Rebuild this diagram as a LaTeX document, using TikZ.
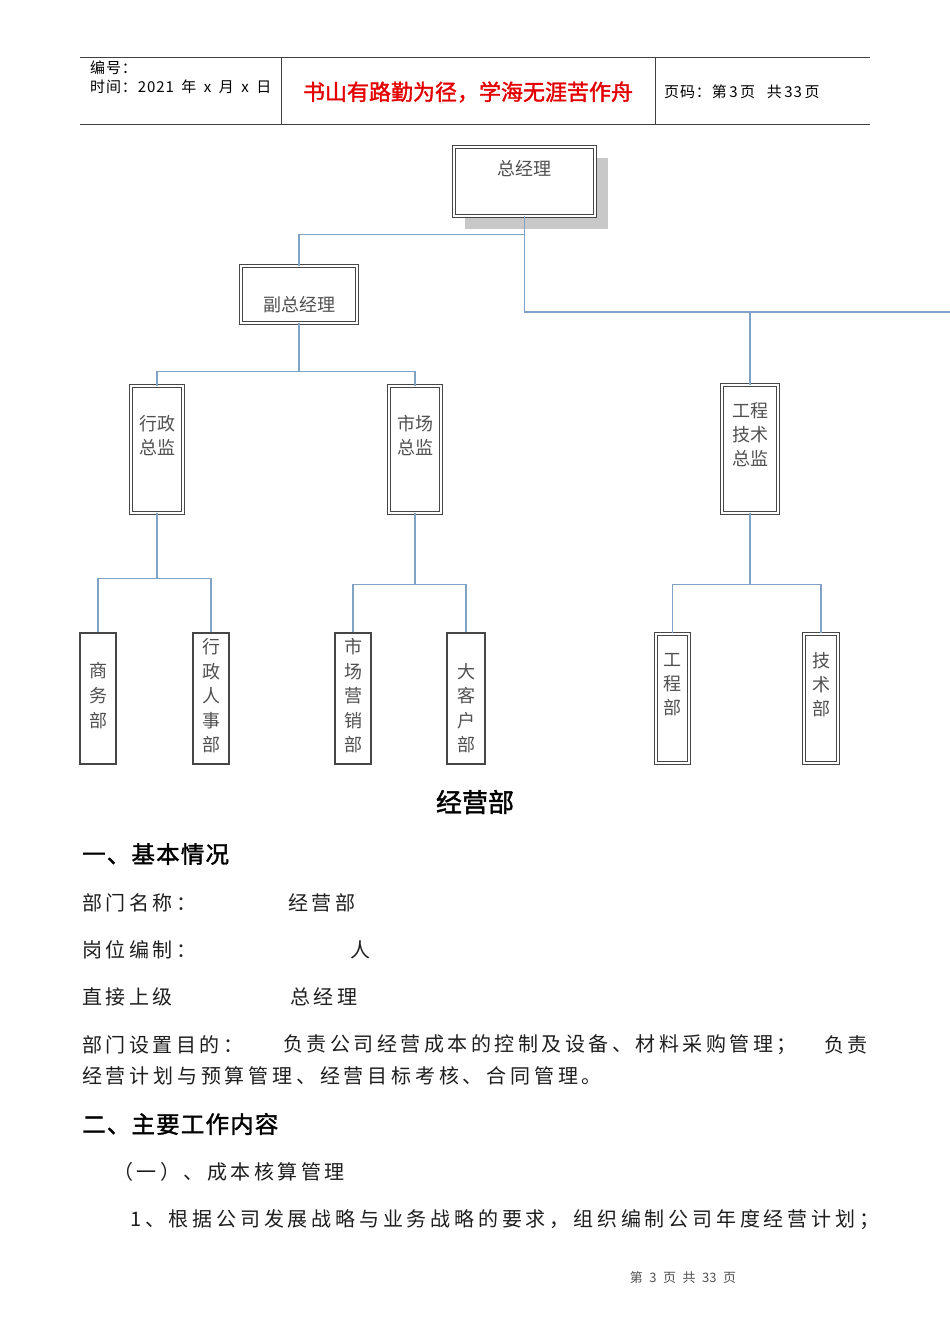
\documentclass[tikz,border=0pt]{standalone}
\usepackage{fontspec}
\newfontfamily\cjk{Noto Sans CJK SC}
\newfontfamily\cjkb[FakeBold=1.6]{Noto Sans CJK SC}
\newfontfamily\cjksp[LetterSpace=17.5]{Noto Sans CJK SC}
\newfontfamily\cjkhd[LetterSpace=6]{Noto Sans CJK SC}
\definecolor{linkblue}{RGB}{128,162,196}
\definecolor{boxgray}{RGB}{70,70,70}
\definecolor{txtgray}{RGB}{80,80,80}
\definecolor{shadowgray}{RGB}{200,200,200}
\definecolor{hdrred}{RGB}{228,0,0}
\definecolor{bodyblack}{RGB}{30,30,30}
\tikzset{
  dbox/.style={draw=boxgray, fill=white, line width=0.9pt, double=white, double distance=1.6pt, inner sep=0pt},
  tbox/.style={draw=boxgray, fill=white, line width=1.3pt, double=white, double distance=1.3pt, inner sep=0pt},
  sbox/.style={draw=boxgray, fill=white, line width=1.3pt, inner sep=0pt},
  link/.style={draw=linkblue, line width=1.4pt},
  chtxt/.style={font=\cjk\fontsize{18}{24.5}\selectfont, text=txtgray, inner sep=0pt, align=center},
  hdr/.style={font=\cjkhd\fontsize{15}{17}\selectfont, text=black, inner sep=0pt, anchor=west},
  body/.style={font=\cjksp\fontsize{20}{24}\selectfont, text=bodyblack, inner sep=0pt, anchor=west},
  head/.style={font=\cjkb\fontsize{23.5}{26}\selectfont\addfontfeatures{LetterSpace=5}, text=black, inner sep=0pt, anchor=west},
  rule/.style={draw=black!75, line width=0.8pt}
}
\begin{document}
\begin{tikzpicture}[x=1pt,y=-1pt]
\useasboundingbox (0,0) rectangle (950,1344);
% header table
\coordinate (hl1) at (80,57); \coordinate (hr1) at (870,57);
\coordinate (hl2) at (80,124); \coordinate (hr2) at (870,124);
\coordinate (v1a) at (281,57); \coordinate (v1b) at (281,124);
\coordinate (v2a) at (655,57); \coordinate (v2b) at (655,124);
\draw[rule] (hl1) -- (hr1);
\draw[rule] (hl2) -- (hr2);
\draw[rule] (v1a) -- (v1b);
\draw[rule] (v2a) -- (v2b);
\node[hdr] (bianhao) at (90,68) {编号：};
\node[hdr] (shijian) at (90,87) {时间：2021\enspace 年\enspace x\enspace 月\enspace x\enspace 日};
\node[font=\cjkb\fontsize{22}{24}\selectfont, text=hdrred, inner sep=0pt] (motto) at (468,92) {书山有路勤为径，学海无涯苦作舟};
\node[hdr] (yema) at (664,92) {页码：第\,3\,页\enspace\ 共\,33\,页};

% shadow of top box
\fill[shadowgray] (465,158) rectangle (608,229);

% boxes
\node[dbox, minimum width=141pt, minimum height=69pt] (zjl) at (524.5,181.5) {};
\node[dbox, minimum width=116pt, minimum height=57pt] (fzjl) at (299,294.5) {};
\node[dbox, minimum width=52pt, minimum height=127pt] (xzzj) at (157,449.5) {};
\node[dbox, minimum width=52pt, minimum height=127pt] (sczj) at (415,449.5) {};
\node[dbox, minimum width=56pt, minimum height=128pt] (gcjs) at (750,449) {};
\node[sbox, minimum width=36pt, minimum height=131pt] (swb) at (98,698.5) {};
\node[sbox, minimum width=36pt, minimum height=131pt] (xzrsb) at (211,698.5) {};
\node[sbox, minimum width=36pt, minimum height=131pt] (scyxb) at (353,698.5) {};
\node[sbox, minimum width=38pt, minimum height=131pt] (dkhb) at (466,698.5) {};
\node[tbox, minimum width=33pt, minimum height=129pt] (gcb) at (672.5,698.5) {};
\node[tbox, minimum width=34pt, minimum height=129pt] (jsb) at (821,698.5) {};

% box texts
\node[chtxt] (tzjl) at (524.5,169) {总经理};
\node[chtxt] (tfzjl) at (299,305) {副总经理};
\node[chtxt] (txzzj) at (157,435.5) {行政\\总监};
\node[chtxt] (tsczj) at (415,435.5) {市场\\总监};
\node[chtxt, font=\cjk\fontsize{18}{24}\selectfont] (tgcjs) at (750,435) {工程\\技术\\总监};
\node[chtxt, font=\cjk\fontsize{18}{25}\selectfont] (tswb) at (98,696) {商\\务\\部};
\node[chtxt] (txzrsb) at (211,696) {行\\政\\人\\事\\部};
\node[chtxt] (tscyxb) at (353,696) {市\\场\\营\\销\\部};
\node[chtxt] (tdkhb) at (466,708) {大\\客\\户\\部};
\node[chtxt, font=\cjk\fontsize{18}{24}\selectfont] (tgcb) at (672.5,685) {工\\程\\部};
\node[chtxt, font=\cjk\fontsize{18}{24}\selectfont] (tjsb) at (821,685) {技\\术\\部};

% connectors
\coordinate (rend) at (950,312);
\draw[link] (zjl.south) |- (rend);
\draw[link] (zjl.south) -- ++(0,18) -| (fzjl.north);
\draw[link] (gcjs.north) -- (gcjs.north |- rend);
\draw[link] (fzjl.south) -- ++(0,48) -| (xzzj.north);
\draw[link] (fzjl.south) -- ++(0,48) -| (sczj.north);
\draw[link] (xzzj.south) -- ++(0,65) -| (swb.north);
\draw[link] (xzzj.south) -- ++(0,65) -| (xzrsb.north);
\draw[link] (sczj.south) -- ++(0,71) -| (scyxb.north);
\draw[link] (sczj.south) -- ++(0,71) -| (dkhb.north);
\draw[link] (gcjs.south) -- ++(0,71) -| (gcb.north);
\draw[link] (gcjs.south) -- ++(0,71) -| (jsb.north);

% body text
\node[font=\cjkb\fontsize{26}{28}\selectfont, inner sep=0pt] (title) at (475,802) {经营部};
\node[head] (h1) at (82,854) {一、基本情况};
\node[body] (b1) at (82,903) {部门名称：};
\node[body] (b1v) at (288,903) {经营部};
\node[body] (b2) at (82,950) {岗位编制：};
\node[body] (b2v) at (350,950) {人};
\node[body] (b3) at (82,997) {直接上级};
\node[body] (b3v) at (290,997) {总经理};
\node[body] (b4) at (82,1045) {部门设置目的：};
\node[body] (b4v) at (283,1045) {负责公司经营成本的控制及设备、材料采购管理；};
\node[body] (b4w) at (824,1045) {负责};
\node[body, font=\cjksp\fontsize{20}{24}\selectfont\addfontfeatures{LetterSpace=19}] (b5) at (82,1076) {经营计划与预算管理、经营目标考核、合同管理。};
\node[head] (h2) at (82,1124) {二、主要工作内容};
\node[body] (b6) at (113,1172) {（一）、成本核算管理};
\node[body, font=\cjksp\fontsize{20}{24}\selectfont\addfontfeatures{LetterSpace=19}] (b7) at (130,1220) {1、根据公司发展战略与业务战略的要求，组织编制公司年度经营计划；};
\node[font=\cjk\fontsize{13}{15}\selectfont, text=txtgray, inner sep=0pt] (foot) at (683,1278) {第\enspace 3\enspace 页\enspace 共\enspace 33\enspace 页};
\end{tikzpicture}
\end{document}
